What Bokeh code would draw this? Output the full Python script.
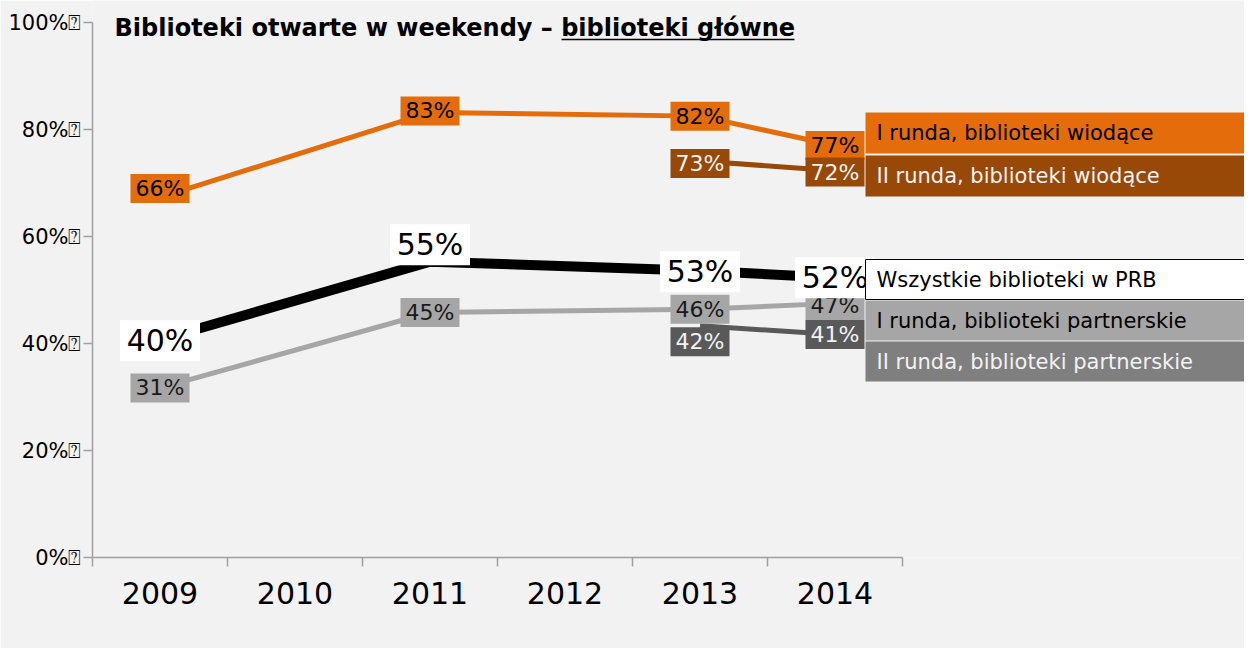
from bokeh.plotting import figure
from bokeh.models import Range1d, FixedTicker, ColumnDataSource
from bokeh.core.properties import value
from bokeh.embed import file_html
from bokeh.resources import INLINE

# ---------------- data ----------------
years = [2009, 2010, 2011, 2012, 2013, 2014]
year_labels = ["2009", "2010", "2011", "2012", "2013", "2014"]
y_ticks = [0, 20, 40, 60, 80, 100]
y_tick_labels = ["0%\u2370", "20%\u2370", "40%\u2370", "60%\u2370", "80%\u2370", "100%\u2370"]

years_r1 = [2009, 2011, 2013, 2014]
years_r2 = [2013, 2014]

# plotted values and the printed data labels
wiodace_r1 = [67.3, 83.2, 82.5, 77.0]
wiodace_r1_lbl = ["66%", "83%", "82%", "77%"]
wiodace_r2 = [74.1, 72.3]
wiodace_r2_lbl = ["73%", "72%"]
wszystkie = [40.7, 55.3, 53.6, 52.3]
wszystkie_lbl = ["40%", "55%", "53%", "52%"]
partnerskie_r1 = [31.7, 45.8, 46.4, 47.5]
partnerskie_r1_lbl = ["31%", "45%", "46%", "47%"]
partnerskie_r2 = [43.3, 41.7]
partnerskie_r2_lbl = ["42%", "41%"]

series_names = [
    "I runda, biblioteki wiodące",
    "II runda, biblioteki wiodące",
    "Wszystkie biblioteki w PRB",
    "I runda, biblioteki partnerskie",
    "II runda, biblioteki partnerskie",
]
title_text = "Biblioteki otwarte w weekendy – biblioteki główne"

# ---------------- style / layout ----------------
ORANGE = "#E46C0A"
BROWN = "#984807"
BLACK = "#000000"
LGRAY = "#A6A6A6"
DGRAY = "#595959"
LEG_DGRAY = "#7F7F7F"
BG = "#F2F2F2"
AXIS = "#A0A0A0"
LIGHT_TXT = "#F2F2F2"
FONT = "DejaVu Sans"

W, H = 1244, 648
FRAME_L = 92
FRAME_B = 91
PX_YEAR = 135.0
PX_PCT = 5.35
frame_w = W - FRAME_L
frame_h = H - FRAME_B


def X(px):  # page pixel -> data x
    return 2008.5 + (px - 100) / PX_YEAR


def Y(py):  # page pixel -> data y
    return (565 - py) / PX_PCT


p = figure(width=W, height=H, output_backend="svg", toolbar_location=None,
           x_range=Range1d(2008.5, 2008.5 + frame_w / PX_YEAR),
           y_range=Range1d(0, frame_h / PX_PCT),
           min_border_left=FRAME_L, min_border_right=0, min_border_top=0,
           min_border_bottom=FRAME_B)
p.background_fill_color = BG
p.border_fill_color = BG
p.outline_line_color = None
p.xgrid.visible = False
p.ygrid.visible = False

# x axis
xa = p.xaxis[0]
xa.ticker = FixedTicker(ticks=years, minor_ticks=[2008.5 + i for i in range(7)])
xa.major_label_overrides = {y: l for y, l in zip(years, year_labels)}
xa.bounds = (2008.5, 2014.5)
xa.major_tick_out = 0
xa.major_tick_in = 0
xa.minor_tick_out = 9
xa.minor_tick_in = 0
xa.axis_line_color = AXIS
xa.axis_line_width = 1.5
xa.minor_tick_line_color = AXIS
xa.minor_tick_line_width = 1.5
xa.major_label_text_font = FONT
xa.major_label_text_font_size = "30px"
xa.major_label_text_color = BLACK
xa.major_label_standoff = 15

# y axis
ya = p.yaxis[0]
ya.ticker = FixedTicker(ticks=y_ticks)
ya.major_label_overrides = {t: l for t, l in zip(y_ticks, y_tick_labels)}
ya.bounds = (0, 100)
ya.major_tick_out = 9
ya.major_tick_in = 0
ya.minor_tick_out = 0
ya.minor_tick_in = 0
ya.axis_line_color = AXIS
ya.axis_line_width = 1.5
ya.major_tick_line_color = AXIS
ya.major_tick_line_width = 1.5
ya.major_label_text_font = FONT
ya.major_label_text_font_size = "21px"
ya.major_label_text_color = BLACK
ya.major_label_standoff = 2

# lines
p.line(years_r1, wiodace_r1, line_color=ORANGE, line_width=5)
p.line(years_r2, wiodace_r2, line_color=BROWN, line_width=5)
p.line(years_r1, partnerskie_r1, line_color=LGRAY, line_width=5)
p.line(years_r2, partnerskie_r2, line_color=DGRAY, line_width=5)
p.line(years_r1, wszystkie, line_color=BLACK, line_width=10, line_join="round")


def add_labels(xs, vals, texts, fill, tcolor, fsize, bw, bh, shift=None):
    # shift: pixel offset (up) of a label box from its point, per year
    shift = shift or {}
    ys = [v + shift.get(x, 0) / PX_PCT for x, v in zip(xs, vals)]
    src = ColumnDataSource(dict(x=xs, y=ys, t=texts))
    p.rect("x", "y", width=bw, height=bh, width_units="screen", height_units="screen",
           fill_color=fill, line_color=None, source=src)
    p.text("x", "y", text="t", source=src, text_align="center", text_baseline="middle",
           text_font=value(FONT), text_font_size=fsize, text_color=tcolor)


add_labels(years_r1, wiodace_r1, wiodace_r1_lbl, ORANGE, BLACK, "22px", 59, 29,
           shift={2009: 9, 2011: 1.5})
add_labels(years_r2, wiodace_r2, wiodace_r2_lbl, BROWN, LIGHT_TXT, "22px", 59, 29,
           shift={2013: -2.4, 2014: -1.4})
add_labels(years_r1, partnerskie_r1, partnerskie_r1_lbl, LGRAY, "#1A1A1A", "22px", 59, 29,
           shift={2014: -2})
add_labels(years_r2, partnerskie_r2, partnerskie_r2_lbl, DGRAY, LIGHT_TXT, "22px", 59, 29,
           shift={2013: -16})
add_labels(years_r1, wszystkie, wszystkie_lbl, "white", BLACK, "30px", 80, 41,
           shift={2009: -1, 2011: 17, 2013: -1})

# legend boxes at the right
leg_rows = [(120, 161), (163, 204), (267, 307), (308, 348), (349, 389)]
leg_fill = [ORANGE, BROWN, "white", LGRAY, LEG_DGRAY]
leg_text = [BLACK, LIGHT_TXT, BLACK, BLACK, LIGHT_TXT]
leg_border = [None, None, BLACK, None, None]
for (t, b), f, tc, bc, name in zip(leg_rows, leg_fill, leg_text, leg_border, series_names):
    p.quad(left=X(873), right=X(1252) + 1, top=Y(t), bottom=Y(b),
           fill_color=f, line_color=bc, line_width=1)
    p.text(x=[X(884)], y=[Y((t + b) / 2)], text=[name], text_align="left",
           text_baseline="middle", text_font=value(FONT), text_font_size="21px",
           text_color=tc)

# title
p.text(x=[X(122)], y=[Y(35)], text=[title_text], text_align="left",
       text_baseline="alphabetic", text_font=value(FONT), text_font_size="24px",
       text_font_style="bold", text_color=BLACK)
p.segment(x0=[X(569)], y0=[Y(47)], x1=[X(802)], y1=[Y(47)], line_color=BLACK,
          line_width=1.5)

open("out.html", "w").write(file_html(p, INLINE))
